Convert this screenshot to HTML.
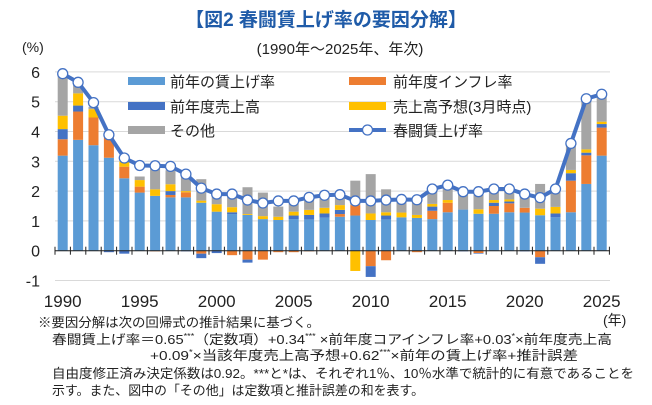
<!DOCTYPE html><html><head><meta charset="utf-8"><style>
body{margin:0;background:#fff;}
svg text{font-family:"Liberation Sans","Noto Sans CJK JP",sans-serif;}
</style></head><body>
<svg id="s" width="652" height="400" xmlns="http://www.w3.org/2000/svg">
<text x="326" y="26" text-anchor="middle" font-size="19" font-weight="bold" fill="#1f5ba8">【図2 春闘賃上げ率の要因分解】</text>
<text x="340" y="54" text-anchor="middle" font-size="15" fill="#222">(1990年～2025年、年次)</text>
<text x="22" y="52" font-size="14" fill="#222">(%)</text>
<g id="g"></g>
<g font-size="13" fill="#222">
<text x="38" y="327" textLength="282" lengthAdjust="spacingAndGlyphs">※要因分解は次の回帰式の推計結果に基づく。</text>
<text x="52" y="344" textLength="560" lengthAdjust="spacingAndGlyphs">春闘賃上げ率＝0.65<tspan font-size="8" dy="-5">***</tspan><tspan dy="5">（定数項）+0.34</tspan><tspan font-size="8" dy="-5">***</tspan><tspan dy="5"> ×前年度コアインフレ率+0.03</tspan><tspan font-size="8" dy="-5">*</tspan><tspan dy="5">×前年度売上高</tspan></text>
<text x="150" y="360" textLength="428" lengthAdjust="spacingAndGlyphs">+0.09<tspan font-size="8" dy="-5">*</tspan><tspan dy="5">×当該年度売上高予想+0.62</tspan><tspan font-size="8" dy="-5">***</tspan><tspan dy="5">×前年の賃上げ率+推計誤差</tspan></text>
<text x="52" y="378" textLength="582" lengthAdjust="spacingAndGlyphs">自由度修正済み決定係数は0.92。***と*は、それぞれ1％、10％水準で統計的に有意であることを</text>
<text x="52" y="395" textLength="372" lengthAdjust="spacingAndGlyphs">示す。また、図中の「その他」は定数項と推計誤差の和を表す。</text>
</g>
</svg>
<script>
const C=['#5B9BD5','#ED7D31','#4472C4','#FFC000','#A5A5A5'];
const D=[
[3.19,3.74,4.08,4.53,5.95,[0,0,0],5.94],
[3.72,4.67,4.87,5.28,5.67,[0,0,0],5.65],
[3.54,4.47,4.47,4.75,4.83,[0,0,0],4.97],
[3.12,3.8,3.8,3.8,3.88,[0,-0.05,0],3.89],
[2.43,2.82,2.82,2.99,3.0,[0,-0.1,0],3.11],
[1.95,2.15,2.15,2.37,2.49,[0,0,0],2.86],
[1.84,1.84,1.84,2.06,2.82,[-0.02,0,0],2.85],
[1.79,1.87,2.0,2.23,2.7,[0,0,0],2.83],
[1.79,1.96,1.96,2.0,2.54,[0,-0.02,0],2.57],
[1.61,1.61,1.61,1.68,2.4,[-0.1,-0.25,0],2.1],
[1.31,1.31,1.31,1.56,1.87,[0,-0.08,0],1.9],
[1.23,1.23,1.29,1.46,1.98,[-0.15,0,0],1.9],
[1.2,1.2,1.2,1.23,2.13,[-0.3,-0.4,0],1.7],
[1.06,1.06,1.06,1.16,1.95,[-0.3,0,0],1.6],
[1.03,1.03,1.03,1.14,1.48,[-0.05,0,0],1.67],
[1.06,1.06,1.18,1.31,1.57,[-0.05,0,0],1.67],
[1.05,1.05,1.2,1.37,1.8,[-0.02,0,0],1.79],
[1.11,1.11,1.25,1.44,1.93,[0,0,0],1.86],
[1.14,1.23,1.37,1.53,1.84,[0,0,0],1.88],
[1.18,1.53,1.53,1.53,2.35,[0,0,-0.68],1.67],
[1.03,1.03,1.03,1.25,2.57,[-0.52,-0.88,0],1.67],
[1.05,1.05,1.18,1.29,2.06,[-0.32,0,0],1.7],
[1.12,1.12,1.12,1.28,1.76,[0,0,0],1.72],
[1.1,1.1,1.1,1.2,1.76,[-0.05,0,0],1.71],
[1.06,1.34,1.48,1.57,1.98,[0,0,0],2.07],
[1.29,1.61,1.61,1.7,2.15,[0,0,0],2.2],
[1.38,1.38,1.38,1.38,1.93,[0,-0.02,0],1.98],
[1.24,1.24,1.24,1.39,1.87,[-0.08,-0.1,0],1.98],
[1.24,1.5,1.61,1.7,1.98,[0,0,0],2.07],
[1.29,1.59,1.65,1.72,2.09,[0,0,0],2.07],
[1.28,1.44,1.44,1.44,1.87,[0,-0.02,0],1.9],
[1.19,1.19,1.19,1.41,2.24,[-0.22,-0.44,0],1.78],
[1.12,1.12,1.25,1.47,1.98,[0,0,0],2.07],
[1.29,2.35,2.6,2.71,3.6,[0,0,0],3.6],
[2.24,3.2,3.29,3.4,5.17,[0,0,0],5.1],
[3.19,4.13,4.25,4.33,5.23,[0,0,0],5.25]];
const Y=v=>250.7-29.8*v, X=i=>62.7+i*15.4;
let h='';
for(let v=-1;v<=6;v++){h+=`<line x1="55" x2="610" y1="${Y(v)}" y2="${Y(v)}" stroke="#d9d9d9" stroke-width="1"/>`;
h+=`<text x="40" y="${Y(v)+6}" text-anchor="end" font-size="16" fill="#222">${v}</text>`;}
D.forEach((d,i)=>{let x=X(i)-5,prev=0;
for(let k=0;k<5;k++){if(d[k]>prev)h+=`<rect x="${x}" y="${Y(d[k])}" width="10" height="${Y(prev)-Y(d[k])}" fill="${C[k]}"/>`;prev=Math.max(prev,d[k]);}
let n=0;[[1,0],[2,1],[3,2]].forEach(([c,j])=>{const v=d[5][j];if(v<n){h+=`<rect x="${x}" y="${Y(n)}" width="10" height="${Y(v)-Y(n)}" fill="${C[c]}"/>`;n=v;}});
});
h+=`<line x1="55" x2="610" y1="${Y(0)}" y2="${Y(0)}" stroke="#222" stroke-width="1"/>`;
for(let i=0;i<=36;i++){const x=X(i)-7.7;h+=`<line x1="${x}" x2="${x}" y1="${Y(0)-4}" y2="${Y(0)+4}" stroke="#222"/>`;}
h+=`<polyline fill="none" stroke="#4472C4" stroke-width="4" stroke-linejoin="round" points="${D.map((d,i)=>X(i)+','+Y(d[6])).join(' ')}"/>`;
D.forEach((d,i)=>h+=`<circle cx="${X(i)}" cy="${Y(d[6])}" r="5" fill="#fff" stroke="#4472C4" stroke-width="1.3"/>`);
for(let i=0;i<=35;i+=5)h+=`<text x="${X(i)}" y="307" text-anchor="middle" font-size="17" fill="#222">${1990+i}</text>`;
h+=`<text x="603" y="325" font-size="14" fill="#222">(年)</text>`;
const L=[[128,81,C[0],'前年の賃上げ率'],[128,106,C[2],'前年度売上高'],[128,130,C[4],'その他'],[349,81,C[1],'前年度インフレ率'],[349,106,C[3],'売上高予想(3月時点)']];
L.forEach(([x,y,c,t])=>{h+=`<rect x="${x}" y="${y-4}" width="37" height="8" fill="${c}"/><text x="${x+(x<200?42:44)}" y="${y+6}" font-size="15" fill="#222">${t}</text>`;});
h+=`<line x1="349" x2="386" y1="130" y2="130" stroke="#4472C4" stroke-width="4"/><circle cx="367.5" cy="130" r="5" fill="#fff" stroke="#4472C4" stroke-width="1.3"/><text x="393" y="136" font-size="15" fill="#222">春闘賃上げ率</text>`;
document.getElementById('g').innerHTML=h;
</script>
</body></html>
